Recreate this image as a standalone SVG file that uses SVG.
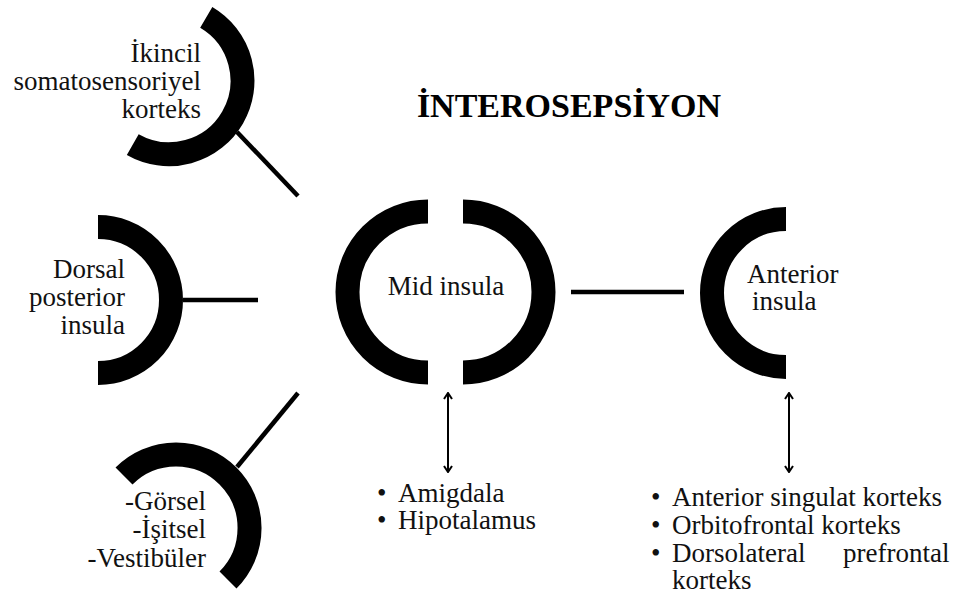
<svg xmlns="http://www.w3.org/2000/svg" width="961" height="599" viewBox="0 0 961 599">
<style>
text{font-family:"Liberation Serif","Times New Roman",serif;font-size:27px;fill:#111}
.title{font-weight:bold;font-size:34px;fill:#000}
.arc{fill:none;stroke:#000;stroke-width:24;stroke-linecap:butt}
.con{stroke:#000;stroke-width:4.5;fill:none}
.arr{stroke:#000;stroke-width:2;fill:none;marker-start:url(#chev);marker-end:url(#chev)}
.end{text-anchor:end}
.mid{text-anchor:middle}
</style>
<defs>
<marker id="chev" viewBox="0 0 10 10" refX="9" refY="5" markerWidth="10" markerHeight="10" markerUnits="userSpaceOnUse" orient="auto-start-reverse">
<path d="M3,1 L9,5 L3,9" fill="none" stroke="#000" stroke-width="2"/>
</marker>
</defs>
<rect width="961" height="599" fill="#fff"/>
<text class="title mid" x="569" y="117">İNTEROSEPSİYON</text>

<g id="ikincil">
<path class="arc" d="M206.25,17.35 A73.5,73.5 0 0 1 132.75,144.65"/>
<text class="end"><tspan x="201" y="62">İkincil</tspan><tspan x="201" y="90">somatosensoriyel</tspan><tspan x="201" y="118">korteks</tspan></text>
</g>

<g id="dorsal">
<path class="arc" d="M98,227 A73,73 0 0 1 98,373"/>
<text class="end"><tspan x="125" y="278">Dorsal</tspan><tspan x="125" y="306">posterior</tspan><tspan x="125" y="334">insula</tspan></text>
</g>

<g id="duyusal">
<path class="arc" d="M124,476 A73.5,73.5 0 0 1 228,580"/>
<text class="end"><tspan x="206" y="510">-Görsel</tspan><tspan x="206" y="538">-İşitsel</tspan><tspan x="206" y="567">-Vestibüler</tspan></text>
</g>

<g id="mid">
<path class="arc" d="M428,211.5 A80.5,80.5 0 0 0 428,372.5"/>
<path class="arc" d="M463,211.5 A80.5,80.5 0 0 1 463,372.5"/>
<text class="mid" x="446" y="295">Mid insula</text>
</g>

<g id="anterior">
<path class="arc" d="M786,219 A74,74 0 0 0 786,367"/>
<text><tspan x="747" y="283">Anterior</tspan><tspan x="752" y="310">insula</tspan></text>
</g>

<g id="mid-list">
<text><tspan x="377" y="502">•</tspan><tspan x="398" y="502">Amigdala</tspan><tspan x="377" y="529">•</tspan><tspan x="398" y="529">Hipotalamus</tspan></text>
</g>

<g id="anterior-list">
<text><tspan x="651" y="506">•</tspan><tspan x="672" y="506">Anterior singulat korteks</tspan><tspan x="651" y="534">•</tspan><tspan x="672" y="534">Orbitofrontal korteks</tspan><tspan x="651" y="562">•</tspan><tspan x="672" y="562">Dorsolateral</tspan><tspan x="843" y="562">prefrontal</tspan><tspan x="672" y="589">korteks</tspan></text>
</g>

<g id="connectors">
<line class="con" x1="237" y1="132" x2="298" y2="196"/>
<line class="con" x1="183" y1="300" x2="258" y2="300"/>
<line class="con" x1="237" y1="467" x2="298" y2="393"/>
<line class="con" x1="571" y1="292" x2="684" y2="292"/>
<line class="arr" x1="448" y1="393" x2="448" y2="472"/>
<line class="arr" x1="789" y1="393" x2="789" y2="472"/>
</g>
</svg>
